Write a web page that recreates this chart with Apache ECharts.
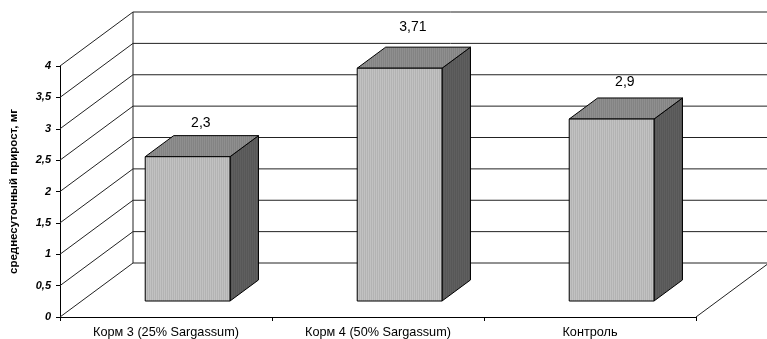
<!DOCTYPE html>
<html>
<head>
<meta charset="utf-8">
<script src="https://cdn.jsdelivr.net/npm/echarts@6/dist/echarts.min.js"></script>
<style>
  html, body { margin: 0; padding: 0; background: #fff; }
  #chart { width: 767px; height: 339px; }
</style>
</head>
<body>
<div id="chart"></div>
<script>
// Data
const categories = ['Корм 3 (25% Sargassum)', 'Корм 4 (50% Sargassum)', 'Контроль'];
const gainValues = [2.3, 3.71, 2.9];
const yTicks = [0, 0.5, 1, 1.5, 2, 2.5, 3, 3.5, 4];

// Oblique depth of the box (px) and where the bars sit inside it
const DEPTH_X = 73, DEPTH_Y = -54;
const BAR_FRONT = 0.296;   // fraction of depth before bar front face
const BAR_DEPTH = 0.39;    // fraction of depth taken by the bar
const BAR_WIDTH = 0.4;     // fraction of category band

function stripePattern(c1, c2) {
  const cv = document.createElement('canvas');
  cv.width = 4; cv.height = 4;
  const ctx = cv.getContext('2d');
  ctx.fillStyle = c1; ctx.fillRect(0, 0, 4, 4);
  ctx.fillStyle = c2; ctx.fillRect(1, 0, 1, 4); ctx.fillRect(3, 0, 1, 4);
  return { image: cv, repeat: 'repeat' };
}
const frontFill = stripePattern('#c2c2c2', '#b3b3b3');
const topFill = stripePattern('#8f8f8f', '#838383');
const sideFill = stripePattern('#5f5f5f', '#575757');

const fmt = v => String(v).replace('.', ',');
const chart = echarts.init(document.getElementById('chart'), null, { renderer: 'canvas' });

chart.setOption({
  animation: false,
  backgroundColor: '#fff',
  grid: { left: 55, right: 71, top: 66, bottom: 22 },
  xAxis: {
    type: 'category',
    data: categories,
    axisLine: { lineStyle: { color: '#000', width: 1 } },
    axisTick: { show: true, length: 4, lineStyle: { color: '#000' } },
    axisLabel: { color: '#000', fontFamily: 'Liberation Sans, Arial', fontSize: 12.7, margin: 9 }
  },
  yAxis: {
    type: 'value',
    min: yTicks[0],
    max: yTicks[yTicks.length - 1],
    interval: yTicks[1] - yTicks[0],
    name: 'среднесуточный прирост, мг',
    nameLocation: 'middle',
    nameRotate: 90,
    nameGap: 40,
    nameTextStyle: { color: '#000', fontFamily: 'Liberation Sans, Arial', fontSize: 11.5, fontWeight: 'bold' },
    axisLine: { show: true, lineStyle: { color: '#000', width: 1 } },
    axisTick: { show: true, length: 4, lineStyle: { color: '#000' } },
    splitLine: { show: false },
    axisLabel: {
      color: '#000', fontFamily: 'Liberation Sans, Arial', fontSize: 11,
      fontWeight: 'bold', fontStyle: 'italic', margin: 9,
      formatter: v => fmt(v)
    }
  },
  series: [
    {
      // box walls: back-wall gridlines and side-wall diagonals per tick
      type: 'custom',
      z: 1,
      silent: true,
      data: yTicks.map(t => [0, t]),
      renderItem: (params, api) => {
        const cs = params.coordSys;
        const L = cs.x, R = cs.x + cs.width;
        const t = api.value(1);
        const y = api.coord([0, t])[1];
        const yTop = cs.y, yBot = cs.y + cs.height;
        const ls = { stroke: '#222', lineWidth: 1 };
        const children = [
          { type: 'line', shape: { x1: L + DEPTH_X, y1: y + DEPTH_Y, x2: R + DEPTH_X, y2: y + DEPTH_Y }, style: ls },
          { type: 'line', shape: { x1: L, y1: y, x2: L + DEPTH_X, y2: y + DEPTH_Y }, style: ls }
        ];
        if (params.dataIndex === 0) {
          children.push(
            { type: 'line', shape: { x1: R, y1: yBot, x2: R + DEPTH_X, y2: yBot + DEPTH_Y }, style: ls },
            { type: 'line', shape: { x1: L + DEPTH_X, y1: yTop + DEPTH_Y, x2: L + DEPTH_X, y2: yBot + DEPTH_Y }, style: ls }
          );
        }
        return { type: 'group', children };
      }
    },
    {
      // 3D bars with value labels above the top face
      type: 'custom',
      z: 5,
      data: gainValues.map((v, i) => [i, v]),
      renderItem: (params, api) => {
        const cat = api.value(0), v = api.value(1);
        const base = api.coord([cat, 0]);
        const top = api.coord([cat, v]);
        const bw = api.size([1, 0])[0] * BAR_WIDTH;
        const fx = DEPTH_X * BAR_FRONT, fy = DEPTH_Y * BAR_FRONT;
        const bx = DEPTH_X * BAR_DEPTH, by = DEPTH_Y * BAR_DEPTH;
        const x0 = base[0] - bw / 2 + fx, x1 = x0 + bw;
        const yb = base[1] + fy, yt = top[1] + fy;
        const edge = { stroke: '#000', lineWidth: 1, lineJoin: 'miter' };
        // label lifts a little more on taller bars (perspective of the box)
        const lift = 0.087 * (yb - yt);
        return {
          type: 'group',
          children: [
            { type: 'polygon', shape: { points: [[x1, yt], [x1 + bx, yt + by], [x1 + bx, yb + by], [x1, yb]] },
              style: Object.assign({ fill: sideFill }, edge) },
            { type: 'polygon', shape: { points: [[x0, yt], [x1, yt], [x1 + bx, yt + by], [x0 + bx, yt + by]] },
              style: Object.assign({ fill: topFill }, edge) },
            { type: 'rect', shape: { x: x0, y: yt, width: bw, height: yb - yt },
              style: Object.assign({ fill: frontFill }, edge) },
            { type: 'text', x: (x0 + x1) / 2 + bx / 2 - 1, y: yt + by - lift,
              style: { text: fmt(v), fill: '#000', font: '14px "Liberation Sans", Arial',
                       align: 'center', verticalAlign: 'middle' } }
          ]
        };
      }
    }
  ]
});
</script>
</body>
</html>
